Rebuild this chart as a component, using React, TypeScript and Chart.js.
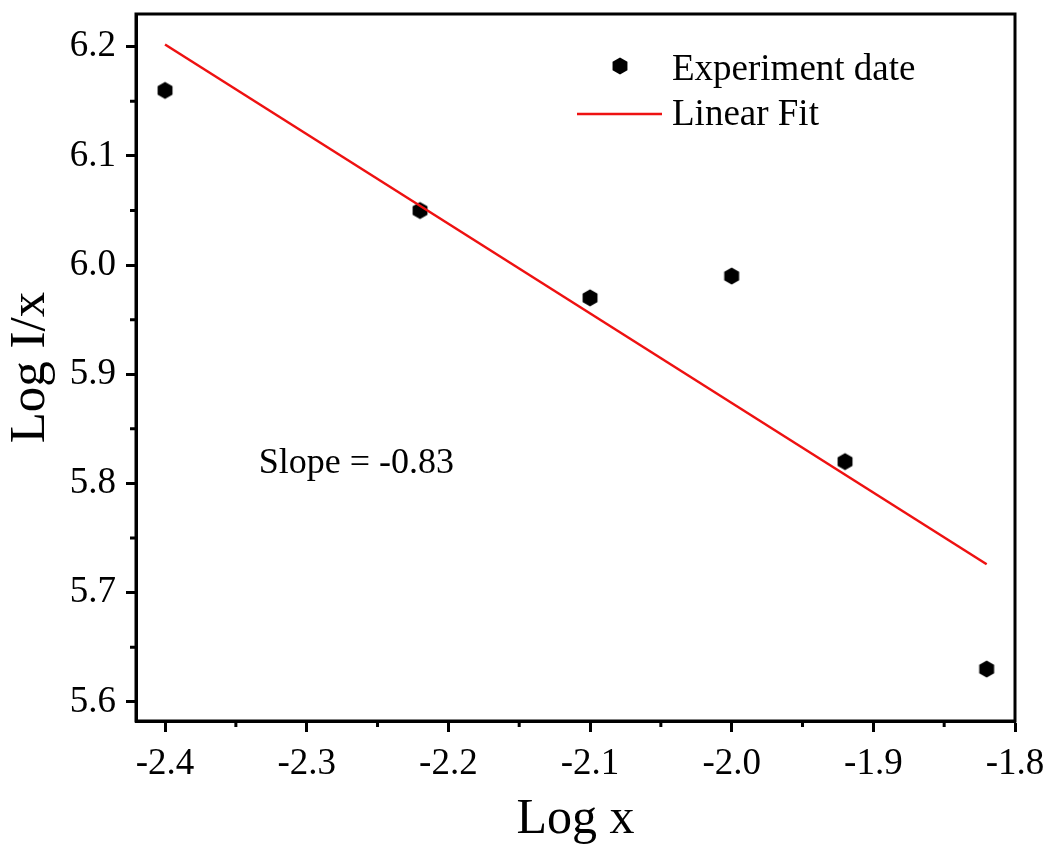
import React, { useEffect, useRef } from "react";
import { Chart, registerables } from "chart.js";

Chart.register(...registerables);

// ---- data ----
const xValues = [-2.4, -2.22, -2.1, -2.0, -1.92, -1.82];
const yValues = [6.16, 6.05, 5.97, 5.99, 5.82, 5.63];
const fitX = [-2.4, -1.82];
const fitY = [6.202, 5.726];
const xMajorTicks = [-2.4, -2.3, -2.2, -2.1, -2.0, -1.9, -1.8];
const xMinorTicks = [-2.35, -2.25, -2.15, -2.05, -1.95, -1.85];
const yMajorTicks = [5.6, 5.7, 5.8, 5.9, 6.0, 6.1, 6.2];
const yMinorTicks = [5.65, 5.75, 5.85, 5.95, 6.05, 6.15];
const seriesLabels = ["Experiment date", "Linear Fit"];
const xTitle = "Log x";
const yTitle = "Log I/x";
const annotationText = "Slope = -0.83";
const annotationPos = [-2.265, 5.81];

const FONT = "'Liberation Serif', 'Times New Roman', serif";

function makeHexagon(): HTMLCanvasElement {
  const c = document.createElement("canvas");
  c.width = 20;
  c.height = 20;
  const ctx = c.getContext("2d")!;
  const r = 8.6;
  ctx.beginPath();
  for (let i = 0; i < 6; i++) {
    const a = -Math.PI / 2 + (i * Math.PI) / 3;
    const px = 10 + r * Math.cos(a);
    const py = 10 + r * Math.sin(a);
    if (i === 0) ctx.moveTo(px, py);
    else ctx.lineTo(px, py);
  }
  ctx.closePath();
  ctx.fillStyle = "#000";
  ctx.fill();
  return c;
}

export default function App() {
  const ref = useRef<HTMLCanvasElement | null>(null);

  useEffect(() => {
    document.body.style.margin = "0";
    const canvas = ref.current!;
    const hex = makeHexagon();

    const framePlugin = {
      id: "frame",
      afterDraw(chart: any) {
        const ctx = chart.ctx as CanvasRenderingContext2D;
        const a = chart.chartArea;
        const xs = chart.scales.x;
        const ys = chart.scales.y;
        ctx.save();
        ctx.strokeStyle = "#000";
        ctx.lineWidth = 3;
        ctx.strokeRect(a.left, a.top, a.right - a.left, a.bottom - a.top);
        // minor ticks
        ctx.beginPath();
        xMinorTicks.forEach((v) => {
          const px = xs.getPixelForValue(v);
          ctx.moveTo(px, a.bottom);
          ctx.lineTo(px, a.bottom + 6);
        });
        yMinorTicks.forEach((v) => {
          const py = ys.getPixelForValue(v);
          ctx.moveTo(a.left, py);
          ctx.lineTo(a.left - 6, py);
        });
        ctx.stroke();

        // annotation
        ctx.fillStyle = "#000";
        ctx.font = `36px ${FONT}`;
        ctx.textAlign = "center";
        ctx.textBaseline = "alphabetic";
        ctx.fillText(
          annotationText,
          xs.getPixelForValue(annotationPos[0]),
          ys.getPixelForValue(annotationPos[1])
        );

        // legend
        const lx = a.left + 484;
        const ly = a.top + 52;
        ctx.drawImage(hex, lx - 10, ly - 10);
        ctx.textAlign = "left";
        ctx.font = `37px ${FONT}`;
        ctx.fillText(chart.data.datasets[0].label, a.left + 536, a.top + 66);
        ctx.beginPath();
        ctx.strokeStyle = chart.data.datasets[1].borderColor;
        ctx.lineWidth = 2.5;
        ctx.moveTo(a.left + 441, a.top + 100);
        ctx.lineTo(a.left + 526, a.top + 100);
        ctx.stroke();
        ctx.fillText(chart.data.datasets[1].label, a.left + 536, a.top + 111);
        ctx.restore();
      },
    };

    const chart = new Chart(canvas, {
      type: "scatter",
      data: {
        datasets: [
          {
            label: seriesLabels[0],
            data: xValues.map((x, i) => ({ x, y: yValues[i] })),
            pointStyle: hex as any,
            pointRadius: 9,
            backgroundColor: "#000",
            borderColor: "#000",
            showLine: false,
            order: 2,
          },
          {
            label: seriesLabels[1],
            data: fitX.map((x, i) => ({ x, y: fitY[i] })),
            showLine: true,
            borderColor: "#ee1111",
            borderWidth: 2.5,
            pointRadius: 0,
            fill: false,
            order: 1,
          },
        ],
      },
      options: {
        responsive: false,
        animation: false,
        devicePixelRatio: 1,
        layout: { padding: { top: 14, right: 37, left: 0, bottom: 0 } },
        plugins: {
          legend: { display: false },
          tooltip: { enabled: false },
        },
        scales: {
          x: {
            type: "linear",
            min: -2.4205,
            max: -1.8,
            afterFit: (s: any) => {
              s.height = 129;
              s.paddingLeft = 0;
              s.paddingRight = 0;
            },
            afterBuildTicks: (s: any) => {
              s.ticks = xMajorTicks.map((v) => ({ value: v }));
            },
            border: { display: true, width: 3, color: "#000" },
            grid: {
              display: true,
              drawOnChartArea: false,
              drawTicks: true,
              tickLength: 11,
              tickWidth: 3,
              tickColor: "#000",
            },
            ticks: {
              autoSkip: false,
              maxRotation: 0,
              color: "#000",
              padding: 10,
              font: { family: FONT, size: 37 },
              callback: (v: any) => Number(v).toFixed(1),
            },
            title: {
              display: true,
              text: xTitle,
              color: "#000",
              font: { family: FONT, size: 50, lineHeight: 1 },
              padding: { top: 0, bottom: 5 },
            },
          },
          y: {
            type: "linear",
            min: 5.5824,
            max: 6.23,
            afterFit: (s: any) => {
              s.width = 136;
              s.paddingTop = 0;
              s.paddingBottom = 0;
            },
            afterBuildTicks: (s: any) => {
              s.ticks = yMajorTicks.map((v) => ({ value: v }));
            },
            border: { display: true, width: 3, color: "#000" },
            grid: {
              display: true,
              drawOnChartArea: false,
              drawTicks: true,
              tickLength: 10,
              tickWidth: 3,
              tickColor: "#000",
            },
            ticks: {
              autoSkip: false,
              color: "#000",
              padding: 10,
              font: { family: FONT, size: 37 },
              callback: (v: any) => Number(v).toFixed(1),
            },
            title: {
              display: true,
              text: yTitle,
              color: "#000",
              font: { family: FONT, size: 51, lineHeight: 1 },
              padding: { top: 5, bottom: 0 },
            },
          },
        },
      },
      plugins: [framePlugin],
    });

    return () => chart.destroy();
  }, []);

  return (
    <div style={{ width: 1052, height: 850, background: "#fff" }}>
      <canvas ref={ref} width={1052} height={850} style={{ display: "block" }} />
    </div>
  );
}
